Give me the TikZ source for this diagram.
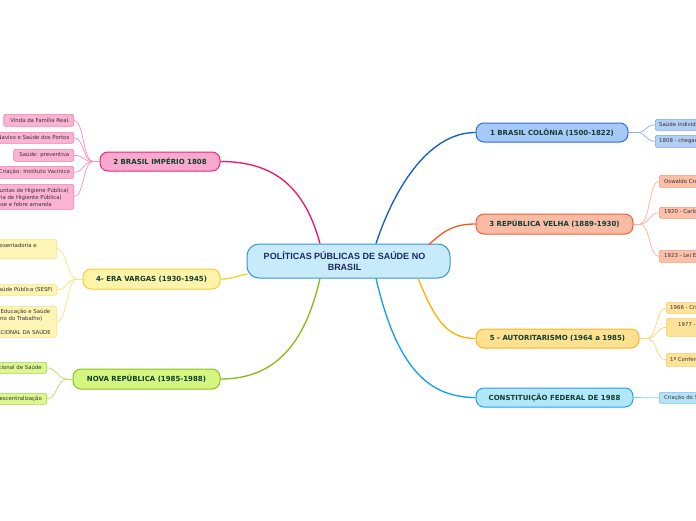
\documentclass[tikz,border=0pt]{standalone}
\usepackage{fontspec}
\setmainfont{DejaVu Sans}
\newfontfamily\ctrfont{Liberation Sans}
\usetikzlibrary{calc}
\definecolor{ctrF}{HTML}{C8EBFB}\definecolor{ctrD}{HTML}{3496D8}\definecolor{ctrT}{HTML}{1B2A5E}
\definecolor{mainT}{HTML}{123F30}\definecolor{leafT}{HTML}{3A3232}
\definecolor{colF}{HTML}{A6C9F8}\definecolor{colD}{HTML}{2E6FD6}\definecolor{colL}{HTML}{0B5BC8}
\definecolor{colLF}{HTML}{B2CFF7}\definecolor{colLD}{HTML}{7AA6EA}\definecolor{colLL}{HTML}{8AB0EE}
\definecolor{impF}{HTML}{F9A9CD}\definecolor{impD}{HTML}{E8277C}\definecolor{impL}{HTML}{F0116F}
\definecolor{impLF}{HTML}{FBB3D3}\definecolor{impLD}{HTML}{F47CAE}\definecolor{impLL}{HTML}{F78FBB}
\definecolor{rvF}{HTML}{FABBA6}\definecolor{rvD}{HTML}{F0602C}\definecolor{rvL}{HTML}{F25A22}
\definecolor{rvLF}{HTML}{FBC0AA}\definecolor{rvLD}{HTML}{F7997A}\definecolor{rvLL}{HTML}{F9B394}
\definecolor{evF}{HTML}{FDF3A9}\definecolor{evD}{HTML}{F0D030}\definecolor{evL}{HTML}{F2D22A}
\definecolor{evLF}{HTML}{FDF5B5}\definecolor{evLD}{HTML}{F7E57A}\definecolor{evLL}{HTML}{F7E47A}
\definecolor{autF}{HTML}{FDE090}\definecolor{autD}{HTML}{F8B52A}\definecolor{autL}{HTML}{F8B300}
\definecolor{autLF}{HTML}{FDE39A}\definecolor{autLD}{HTML}{F9CD6A}\definecolor{autLL}{HTML}{F9D27A}
\definecolor{nrF}{HTML}{D4F580}\definecolor{nrD}{HTML}{8CC21E}\definecolor{nrL}{HTML}{86BC12}
\definecolor{nrLF}{HTML}{DCF790}\definecolor{nrLD}{HTML}{A8D64A}\definecolor{nrLL}{HTML}{B8DE6A}
\definecolor{cfF}{HTML}{B2E6F9}\definecolor{cfD}{HTML}{1EA6EA}\definecolor{cfL}{HTML}{0EA0E8}
\definecolor{cfLF}{HTML}{B6E3F7}\definecolor{cfLD}{HTML}{6CC4EE}\definecolor{cfLL}{HTML}{8CD0F0}
\tikzset{
  mainbox/.style={draw, line width=1pt, rounded corners=8pt, inner sep=0pt,
    font=\bfseries\fontsize{7}{8}\selectfont, text=mainT, minimum height=19pt},
  leafR/.style={draw, line width=0.6pt, rounded corners=2pt, inner sep=0pt, anchor=north west, minimum width=80pt},
  leafL/.style={draw, line width=0.6pt, rounded corners=2pt, inner sep=0pt, anchor=north east},
  ltxt/.style={inner sep=0pt, font=\fontsize{5.4}{6.5}\selectfont, text=leafT},
  ltxtE/.style={ltxt, anchor=east},
  ltxtW/.style={ltxt, anchor=west},
  trunk/.style={line width=1.3pt},
  twig/.style={line width=0.7pt},
}
\begin{document}
\begin{tikzpicture}[x=1pt,y=-1pt]
\useasboundingbox (0,0) rectangle (696,520);
\clip (0,0) rectangle (696,520);
\fill[white] (0,0) rectangle (696,520);

% central node
\node[draw=ctrD, fill=ctrF, line width=1pt, rounded corners=12pt, minimum width=203pt, minimum height=34pt, inner sep=0pt] (ctr) at (348.5,261) {};
\node[inner sep=0pt, align=center, text=ctrT, font=\ctrfont\bfseries\fontsize{9}{11}\selectfont] (ctrtxt) at (344.5,261.5) {POLÍTICAS PÚBLICAS DE SAÚDE NO\\BRASIL};

% main nodes
\node[mainbox, fill=colF, draw=colD, minimum width=152pt] (col) at (552,132.5) {1 BRASIL COLÔNIA (1500-1822)};
\node[mainbox, fill=impF, draw=impD, minimum width=120pt] (imp) at (160,161.5) {2 BRASIL IMPÉRIO 1808};
\node[mainbox, fill=rvF, draw=rvD, minimum width=157pt, minimum height=20pt] (rv) at (554.5,224) {3 REPÚBLICA VELHA (1889-1930)};
\node[mainbox, fill=evF, draw=evD, minimum width=137pt, minimum height=20pt] (ev) at (151.5,279) {4- ERA VARGAS (1930-1945)};
\node[mainbox, fill=autF, draw=autD, minimum width=163pt] (aut) at (557.5,338.5) {5 - AUTORITARISMO (1964 a 1985)};
\node[mainbox, fill=nrF, draw=nrD, minimum width=147pt, minimum height=20pt] (nr) at (146.5,379) {NOVA REPÚBLICA (1985-1988)};
\node[mainbox, fill=cfF, draw=cfD, minimum width=157pt] (cf) at (554.5,397.5) {CONSTITUIÇÃO FEDERAL DE 1988};

% trunks
\draw[trunk, colL] ($(ctr.north)+(27.5,0)$) .. controls +(20,-60) and +(-45,0) .. (col.west);
\draw[trunk, impL] ($(ctr.north)+(-28.5,0)$) .. controls +(-15,-55) and +(55,0) .. (imp.east);
\draw[trunk, rvL] ($(ctr.north)+(80,1.5)$) .. controls +(15,-14) and +(-22,0) .. (rv.west);
\draw[trunk, evL] ($(ctr.west)+(1,13)$) .. controls +(-12,2) and +(12,0) .. (ev.east);
\draw[trunk, autL] ($(ctr.south)+(69.5,0)$) .. controls +(15,35) and +(-32,0) .. (aut.west);
\draw[trunk, nrL] ($(ctr.south)+(-28.5,0)$) .. controls +(-15,65) and +(55,0) .. (nr.east);
\draw[trunk, cfL] ($(ctr.south)+(27.5,0)$) .. controls +(20,85) and +(-50,0) .. (cf.west);

% ---- right leaves
% Colonia
\node[leafR, fill=colLF, draw=colLD, minimum height=11pt] (c1) at (655,119) {};
\node[leafR, fill=colLF, draw=colLD, minimum height=12pt] (c2) at (655,135) {};
\node[ltxtW] (c1t) at (659,124.5) {Saúde individual};
\node[ltxtW] (c2t) at (659,141) {1808 - chegada da Família Real};
\coordinate (cj) at (637,132.5);
\draw[twig, colLL] (col.east) -- (cj);
\draw[twig, colLL] (cj) .. controls +(9,0) and +(-9,0) .. (c1.west);
\draw[twig, colLL] (cj) .. controls +(9,0) and +(-9,0) .. (c2.west);
% Republica Velha
\node[leafR, fill=rvLF, draw=rvLD, minimum height=12pt] (r1) at (659,175) {};
\node[leafR, fill=rvLF, draw=rvLD, minimum height=11pt] (r2) at (659,207) {};
\node[leafR, fill=rvLF, draw=rvLD, minimum height=12pt] (r3) at (659,250) {};
\node[ltxtW] (r1t) at (664,181) {Oswaldo Cruz};
\node[ltxtW] (r2t) at (664,212.5) {1920 - Carlos Chagas};
\node[ltxtW] (r3t) at (664,256) {1923 - Lei Eloy Chaves};
\coordinate (rj) at (640,224);
\draw[twig, rvLL] (rv.east) -- (rj);
\foreach \l in {r1,r2,r3}{\draw[twig, rvLL] (rj) .. controls +(10,0) and +(-10,0) .. (\l.west);}
% Autoritarismo
\node[leafR, fill=autLF, draw=autLD, minimum height=11pt] (a1) at (666,302) {};
\node[leafR, fill=autLF, draw=autLD, minimum height=18pt] (a2) at (666,318) {};
\node[leafR, fill=autLF, draw=autLD, minimum height=13pt] (a3) at (666,353) {};
\node[ltxtW] (a1t) at (670,307.5) {1966 - Criação do INPS};
\node[ltxtW] (a2t) at (678,325) {1977 - Criação do SINPAS};
\node[ltxtW] (a3t) at (670,359.5) {1ª Conferência};
\coordinate (aj) at (647,338.5);
\draw[twig, autLL] (aut.east) -- (aj);
\foreach \l in {a1,a2,a3}{\draw[twig, autLL] (aj) .. controls +(10,0) and +(-10,0) .. (\l.west);}
% Constituicao
\node[leafR, fill=cfLF, draw=cfLD, minimum height=11pt] (f1) at (659,392) {};
\node[ltxtW] (f1t) at (664,397.5) {Criação do SUS};
\draw[twig, cfLL] (cf.east) -- (f1.west);

% ---- left leaves
% Imperio
\node[leafL, fill=impLF, draw=impLD, minimum width=70pt, minimum height=12pt] (i1) at (74,114) {};
\node[leafL, fill=impLF, draw=impLD, minimum width=90pt, minimum height=11pt] (i2) at (74,132) {};
\node[leafL, fill=impLF, draw=impLD, minimum width=60pt, minimum height=12pt] (i3) at (74,149) {};
\node[leafL, fill=impLF, draw=impLD, minimum width=90pt, minimum height=12pt] (i4) at (74,166) {};
\node[leafL, fill=impLF, draw=impLD, minimum width=90pt, minimum height=25pt] (i5) at (74,184) {};
\node[ltxtE] (i1t) at (70,120) {Vinda da Família Real.};
\node[ltxtE] (i2t) at (69.5,137.5) {Inspeção de Navios e Saúde dos Portos};
\node[ltxtE] (i3t) at (69.5,155) {Saúde: preventiva};
\node[ltxtE] (i4t) at (70,172) {Criação: Instituto Vacínico};
\node[ltxtE] (i5a) at (69,190.5) {(Juntas de Higiene Pública)};
\node[ltxtE] (i5b) at (62,197.5) {(Inspetoria de Higiente Pública)};
\node[ltxtE] (i5c) at (52,204.5) {Tuberculose e febre amarela};
\coordinate (ij) at (93,161.5);
\draw[twig, impLL] (imp.west) -- (ij);
\foreach \l in {i1,i2,i3,i4,i5}{\draw[twig, impLL] (ij) .. controls +(-10,0) and +(10,0) .. (\l.east);}
% Era Vargas
\node[leafL, fill=evLF, draw=evLD, minimum width=80pt, minimum height=19pt] (v1) at (57,239) {};
\node[leafL, fill=evLF, draw=evLD, minimum width=80pt, minimum height=11pt] (v2) at (57,284) {};
\node[leafL, fill=evLF, draw=evLD, minimum width=80pt, minimum height=31pt] (v3) at (57,306) {};
\node[ltxtE] (v1t) at (37,246) {Caixas de Aposentadoria e};
\node[ltxtE] (v2t) at (53,290) {Serviço Especial de Saúde Pública (SESP)};
\node[ltxtE] (v3a) at (50.5,312) {Ministério da Educação e Saúde};
\node[ltxtE] (v3b) at (42.5,319) {(Ministério do Trabalho)};
\node[ltxtE] (v3c) at (51,332) {CONFERÊNCIA NACIONAL DA SAÚDE};
\coordinate (vj) at (77,279);
\draw[twig, evLL] (ev.west) -- (vj);
\foreach \l in {v1,v2,v3}{\draw[twig, evLL] (vj) .. controls +(-10,0) and +(10,0) .. (\l.east);}
% Nova Republica
\node[leafL, fill=nrLF, draw=nrLD, minimum width=80pt, minimum height=11pt] (n1) at (47,362) {};
\node[leafL, fill=nrLF, draw=nrLD, minimum width=80pt, minimum height=11pt] (n2) at (47,393) {};
\node[ltxtE] (n1t) at (42,367.5) {8ª Conferência Nacional de Saúde};
\node[ltxtE] (n2t) at (42,398.5) {Descentralização};
\coordinate (nj) at (67,379);
\draw[twig, nrLL] (nr.west) -- (nj);
\foreach \l in {n1,n2}{\draw[twig, nrLL] (nj) .. controls +(-10,0) and +(10,0) .. (\l.east);}
\end{tikzpicture}
\end{document}
